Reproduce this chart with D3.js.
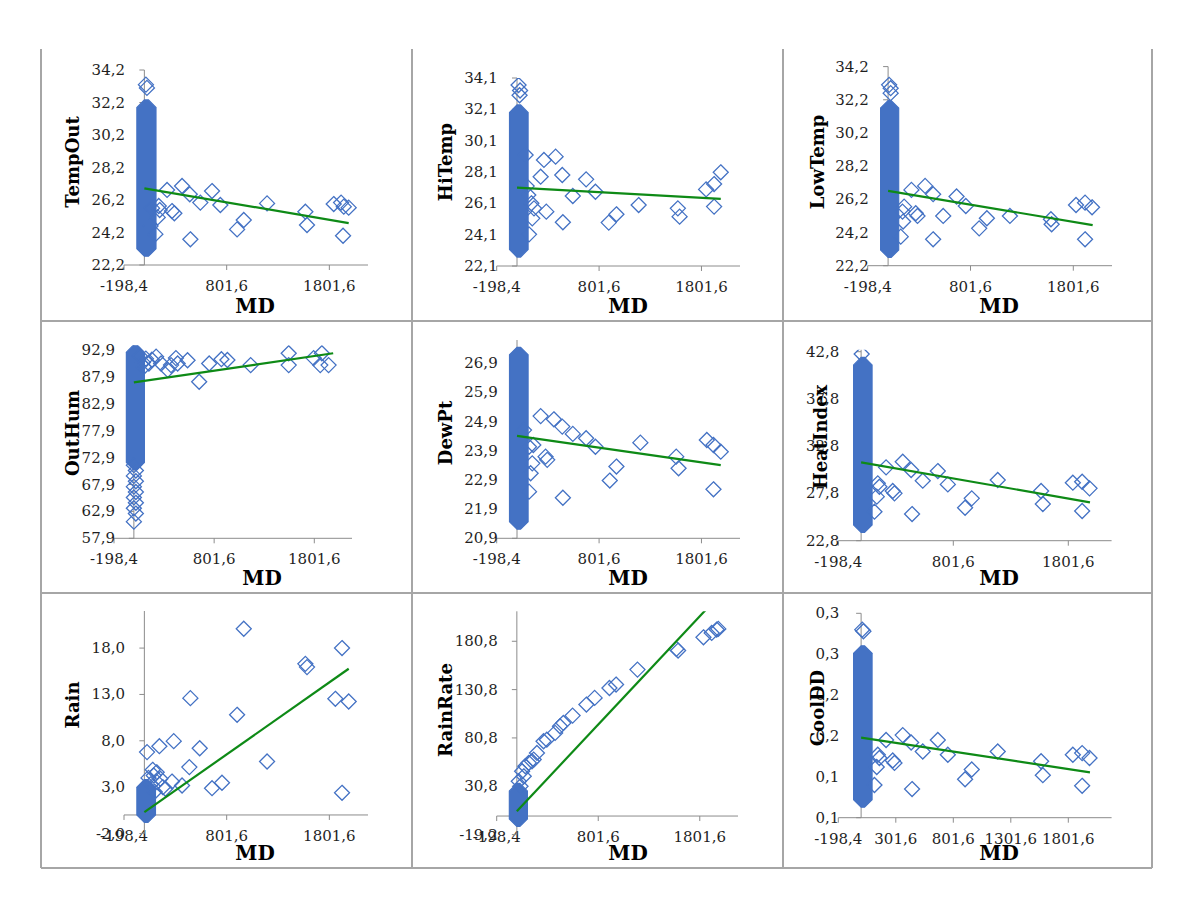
<!DOCTYPE html>
<html>
<head>
<meta charset="utf-8">
<script src="https://cdn.jsdelivr.net/npm/d3@7"></script>
<style>
  body { margin: 0; background: #fff; }
  svg text { font-family: "DejaVu Serif", serif; }
</style>
</head>
<body>
<svg id="chart" width="1191" height="908"></svg>
<script>
/* MD scatter grid: nine weather variables plotted against MD */

// shared x axis (MD)
const mdDomain = [-198.4, 2178];
const mdTicks = [-198.4, 801.6, 1801.6];
const mdTicksFine = [-198.4, 301.6, 801.6, 1301.6, 1801.6];

// dense column of readings at MD ~ 0: [mdMin, mdMax, valueMin, valueMax]
// TempOut
const tempOutTicks = [22.2, 24.2, 26.2, 28.2, 30.2, 32.2, 34.2];
const tempOutColumn = [0, 40, 23.2, 31.9];
const tempOutPoints = [[60, 24.6], [75, 25.7], [107, 24.1], [130, 25.13], [140, 25.83], [149, 25.58], [221, 26.82],
  [269, 25.52], [292, 25.38], [367, 27.06], [442, 26.55], [448, 23.78], [545, 26.04], [659, 26.75], [740, 25.89],
  [903, 24.39], [968, 24.97], [1195, 25.99], [1568, 25.48], [1584, 24.66], [1844, 25.95], [1916, 26.04],
  [1935, 24.0], [1942, 25.79], [1990, 25.73], [15, 33.3], [25, 33.1]];
const tempOutTrend = [[0, 26.92], [1990, 24.78]];

// HiTemp
const hiTempTicks = [22.1, 24.1, 26.1, 28.1, 30.1, 32.1, 34.1];
const hiTempColumn = [0, 35, 23.15, 31.9];
const hiTempPoints = [[84, 29.19], [94, 27.2], [110, 26.63], [117, 24.12], [140, 26.1], [149, 25.14], [166, 25.78],
  [231, 27.8], [263, 28.87], [286, 25.57], [377, 29.08], [442, 27.91], [448, 24.89], [545, 26.57], [675, 27.63],
  [766, 26.84], [896, 24.87], [971, 25.4], [1188, 25.99], [1571, 25.78], [1588, 25.25], [1847, 26.99],
  [1925, 27.33], [1925, 25.89], [1990, 28.08], [15, 33.65], [30, 33.3], [25, 33.0]];
const hiTempTrend = [[0, 27.1], [1990, 26.38]];

// LowTemp
const lowTempTicks = [22.2, 24.2, 26.2, 28.2, 30.2, 32.2, 34.2];
const lowTempColumn = [0, 30, 23.15, 31.7];
const lowTempPoints = [[123, 23.95], [140, 25.46], [146, 24.86], [156, 25.76], [227, 26.77], [269, 25.36],
  [286, 25.2], [360, 27.01], [438, 26.51], [438, 23.79], [536, 25.2], [666, 26.37], [756, 25.8], [886, 24.45],
  [961, 25.06], [1185, 25.2], [1584, 25.0], [1591, 24.7], [1828, 25.86], [1916, 26.0], [1916, 23.79],
  [1984, 25.72], [10, 33.1], [25, 32.9], [25, 32.6]];
const lowTempTrend = [[0, 26.71], [1990, 24.65]];

// OutHum
const outHumTicks = [57.9, 62.9, 67.9, 72.9, 77.9, 82.9, 87.9, 92.9];
const outHumMax = 93.8;
const outHumColumn = [0, 30, 72, 92.5];
const outHumPoints = [[0, 61.0], [20, 62.5], [0, 63.5], [20, 64.5], [0, 65.5], [20, 66.5], [0, 67.5], [20, 68.5],
  [0, 69.5], [20, 70.5], [0, 71.5],
  [60, 91.8], [90, 90.6], [120, 91.3], [150, 90.4], [180, 91.1], [100, 89.8], [222, 91.67], [272, 90.4],
  [338, 89.2], [371, 90.1], [420, 91.4], [437, 90.4], [536, 91.0], [652, 87.0], [752, 90.4], [874, 91.2],
  [934, 91.05], [1166, 90.1], [1546, 92.3], [1546, 90.1], [1795, 91.4], [1877, 92.3], [1861, 90.1], [1944, 90.1]];
const outHumTrend = [[0, 86.9], [1990, 92.3]];

// DewPt
const dewPtTicks = [20.9, 21.9, 22.9, 23.9, 24.9, 25.9, 26.9];
const dewPtMax = 27.7;
const dewPtColumn = [0, 35, 21.47, 27.19];
const dewPtPoints = [[68, 24.61], [117, 22.5], [117, 24.04], [133, 23.13], [149, 23.47], [159, 24.1], [231, 25.09],
  [279, 23.7], [295, 23.59], [360, 24.98], [442, 24.73], [448, 22.29], [545, 24.48], [675, 24.33], [766, 24.04],
  [906, 22.88], [971, 23.36], [1205, 24.18], [1555, 23.7], [1578, 23.3], [1854, 24.27], [1919, 24.1],
  [1919, 22.58], [1990, 23.87]];
const dewPtTrend = [[0, 24.41], [1990, 23.41]];

// HeatIndex
const heatIndexTicks = [22.8, 27.8, 32.8, 37.8, 42.8];
const heatIndexMax = 43.0;
const heatIndexColumn = [0, 30, 24.46, 41.4];
const heatIndexPoints = [[116, 25.87], [136, 27.46], [145, 28.87], [159, 28.51], [217, 30.56], [275, 28.06],
  [290, 27.81], [362, 31.16], [435, 30.28], [443, 25.62], [536, 29.15], [667, 30.17], [754, 28.76],
  [904, 26.29], [962, 27.28], [1188, 29.22], [1565, 28.06], [1580, 26.68], [1841, 28.94], [1922, 29.04],
  [1922, 25.94], [1986, 28.34], [5, 42.55]];
const heatIndexTrend = [[0, 31.09], [1990, 26.86]];

// Rain
const rainTicks = [-2.0, 3.0, 8.0, 13.0, 18.0];
const rainMax = 22.0;
const rainColumn = [0, 35, 0, 3.0];
const rainPoints = [[26, 6.78], [40, 4.0], [60, 3.3], [81, 4.87], [91, 4.26], [100, 2.5], [120, 4.6], [123, 3.54],
  [146, 7.42], [156, 3.9], [180, 3.0], [205, 2.82], [269, 3.6], [286, 7.96], [367, 3.18], [438, 5.16],
  [448, 12.6], [539, 7.2], [659, 2.89], [756, 3.47], [903, 10.8], [968, 20.09], [1195, 5.77], [1568, 16.3],
  [1584, 15.95], [1860, 12.53], [1925, 18.0], [1925, 2.39], [1990, 12.24]];
const rainTrend = [[0, 0.3], [1990, 15.77]];

// RainRate
const rainRateTicks = [-19.2, 30.8, 80.8, 130.8, 180.8];
const rainRateMax = 211.8;
const rainRateColumn = [0, 30, -3, 26];
const rainRatePoints = [[19, 36], [36, 30.8], [52, 46.3], [68, 41.1], [84, 51.5], [117, 55], [149, 56.7],
  [166, 58.4], [198, 65.3], [263, 77.4], [295, 79], [377, 86], [425, 92.9], [458, 96.3], [549, 103.9],
  [685, 115.3], [766, 122.2], [912, 132.5], [977, 136], [1188, 151.5], [1571, 172.9], [1588, 171.2],
  [1838, 184.9], [1919, 189.4], [1968, 192.9], [1984, 193.6]];
const rainRateTrend = [[0, 4.9], [1990, 227.8]];

// CoolDD
const coolDDTicks = [0.06, 0.11, 0.16, 0.21, 0.26, 0.31];
const coolDDColumn = [0, 30, 0.082, 0.261];
const coolDDPoints = [[116, 0.100], [136, 0.122], [145, 0.137], [159, 0.133], [217, 0.155], [275, 0.130],
  [290, 0.127], [362, 0.161], [435, 0.152], [443, 0.095], [536, 0.141], [667, 0.155], [754, 0.137],
  [904, 0.107], [962, 0.119], [1188, 0.141], [1565, 0.129], [1580, 0.112], [1841, 0.137], [1922, 0.139],
  [1922, 0.099], [1986, 0.133], [10, 0.290], [20, 0.288]];
const coolDDTrend = [[0, 0.158], [1990, 0.1155]];

const panels = [
  { name: "TempOut", ticks: tempOutTicks, yMax: 34.2, xTicks: mdTicks, column: tempOutColumn, points: tempOutPoints, trend: tempOutTrend },
  { name: "HiTemp", ticks: hiTempTicks, yMax: 34.1, xTicks: mdTicks, column: hiTempColumn, points: hiTempPoints, trend: hiTempTrend },
  { name: "LowTemp", ticks: lowTempTicks, yMax: 34.2, xTicks: mdTicks, column: lowTempColumn, points: lowTempPoints, trend: lowTempTrend },
  { name: "OutHum", ticks: outHumTicks, yMax: outHumMax, xTicks: mdTicks, column: outHumColumn, points: outHumPoints, trend: outHumTrend },
  { name: "DewPt", ticks: dewPtTicks, yMax: dewPtMax, xTicks: mdTicks, column: dewPtColumn, points: dewPtPoints, trend: dewPtTrend },
  { name: "HeatIndex", ticks: heatIndexTicks, yMax: heatIndexMax, xTicks: mdTicks, column: heatIndexColumn, points: heatIndexPoints, trend: heatIndexTrend },
  { name: "Rain", ticks: rainTicks, yMax: rainMax, xTicks: mdTicks, column: rainColumn, points: rainPoints, trend: rainTrend },
  { name: "RainRate", ticks: rainRateTicks, yMax: rainRateMax, xTicks: mdTicks, column: rainRateColumn, points: rainRatePoints, trend: rainRateTrend },
  { name: "CoolDD", ticks: coolDDTicks, yMax: 0.31, xTicks: mdTicksFine, column: coolDDColumn, points: coolDDPoints, trend: coolDDTrend }
];

// plot areas inside the 3x3 grid (pixels)
const frames = [
  { x0: 124, x1: 368, yt: 70, yb: 265, ty: [72, 162], tx: [255, 306] },
  { x0: 496.7, x1: 740, yt: 78, yb: 266, ty: [445, 162], tx: [628, 306] },
  { x0: 867.7, x1: 1112, yt: 66.6, yb: 265.7, ty: [817, 162], tx: [999, 306] },
  { x0: 114, x1: 352, yt: 345.2, yb: 538.3, ty: [72, 433], tx: [262, 578] },
  { x0: 496.7, x1: 740, yt: 340, yb: 538.3, ty: [445, 433], tx: [628, 578] },
  { x0: 838.3, x1: 1111.6, yt: 349.8, yb: 540.7, ty: [820, 437], tx: [999, 578] },
  { x0: 124, x1: 368, yt: 611, yb: 833.5, ty: [72, 705], tx: [255, 853] },
  { x0: 496.7, x1: 738, yt: 611.3, yb: 834.6, ty: [445, 710], tx: [628, 853] },
  { x0: 838.3, x1: 1111.6, yt: 613.3, yb: 817.7, ty: [817, 708], tx: [999, 853] }
];

const blue = "#4472C4";
const green = "#0E8A16";
const axisGray = "#8C8C8C";
const half = 7.5; // diamond half-diagonal

const fmt = v => v.toFixed(1).replace(".", ",");
const diamond = (cx, cy) => `M${cx},${cy - half}L${cx + half},${cy}L${cx},${cy + half}L${cx - half},${cy}Z`;

const svg = d3.select("#chart");

// cell borders
const gridX = [41, 412, 783, 1152];
const gridY = [49, 321, 593, 868];
gridX.forEach(gx => {
  svg.append("line").attr("x1", gx).attr("x2", gx).attr("y1", gridY[0]).attr("y2", gridY[3])
    .attr("stroke", "#A6A6A6").attr("stroke-width", 2);
});
gridY.slice(1).forEach(gy => {
  svg.append("line").attr("x1", gridX[0]).attr("x2", gridX[3]).attr("y1", gy).attr("y2", gy)
    .attr("stroke", "#A6A6A6").attr("stroke-width", 2);
});

panels.forEach((p, i) => {
  const f = frames[i];
  const x = d3.scaleLinear().domain(mdDomain).range([f.x0, f.x1]);
  const y = d3.scaleLinear().domain([p.ticks[0], p.yMax]).range([f.yb, f.yt]);
  const g = svg.append("g");

  const yCross = p.ticks[0] < 0 ? 0 : p.ticks[0];
  const axisY = y(yCross);
  const axisX = x(0);

  g.append("clipPath").attr("id", "clip" + i)
    .append("rect").attr("x", f.x0).attr("y", f.yt).attr("width", f.x1 - f.x0).attr("height", f.yb - f.yt);

  // horizontal axis
  g.append("line").attr("x1", f.x0).attr("x2", f.x1).attr("y1", axisY).attr("y2", axisY)
    .attr("stroke", axisGray).attr("stroke-width", 1);
  g.selectAll(".xt").data(p.xTicks).enter().append("line")
    .attr("x1", d => x(d)).attr("x2", d => x(d)).attr("y1", axisY).attr("y2", axisY + 5)
    .attr("stroke", axisGray);
  g.selectAll(".xl").data(p.xTicks).enter().append("text")
    .attr("x", d => x(d)).attr("y", axisY + 21)
    .attr("text-anchor", "middle").attr("dominant-baseline", "central")
    .attr("font-size", 15).attr("fill", "#1f1f1f")
    .text(fmt);

  // vertical axis, crossing at MD = 0
  g.append("line").attr("x1", axisX).attr("x2", axisX).attr("y1", f.yb).attr("y2", f.yt)
    .attr("stroke", axisGray).attr("stroke-width", 1);
  g.selectAll(".yt").data(p.ticks).enter().append("line")
    .attr("x1", axisX - 5).attr("x2", axisX).attr("y1", d => y(d)).attr("y2", d => y(d))
    .attr("stroke", axisGray);
  g.selectAll(".yl").data(p.ticks).enter().append("text")
    .attr("x", f.x0 + 1).attr("y", d => y(d))
    .attr("text-anchor", "end").attr("dominant-baseline", "central")
    .attr("font-size", 15).attr("fill", "#1f1f1f")
    .text(fmt);

  const marks = g.append("g").attr("clip-path", `url(#clip${i})`);

  // dense column of readings near MD = 0
  const [m0, m1, v0, v1] = p.column;
  const xa = x(m0), xb = x(m1), yTop = y(v1), yBot = y(v0);
  marks.append("path")
    .attr("d", `M${xa},${yTop - half}L${xb},${yTop - half}L${xb + half},${yTop}L${xb + half},${yBot}` +
      `L${xb},${yBot + half}L${xa},${yBot + half}L${xa - half},${yBot}L${xa - half},${yTop}Z`)
    .attr("fill", blue).attr("stroke", blue).attr("stroke-width", 1.2);

  // individual readings
  marks.selectAll(".pt").data(p.points).enter().append("path")
    .attr("d", d => diamond(x(d[0]), y(d[1])))
    .attr("fill", "none").attr("stroke", blue).attr("stroke-width", 1.3);

  // linear trend line
  marks.append("path")
    .attr("d", d3.line().x(d => x(d[0])).y(d => y(d[1]))(p.trend))
    .attr("fill", "none").attr("stroke", green).attr("stroke-width", 2.2);

  // titles
  g.append("text")
    .attr("transform", `translate(${f.ty[0]},${f.ty[1]}) rotate(-90)`)
    .attr("text-anchor", "middle").attr("dominant-baseline", "central")
    .attr("font-size", 18).attr("font-weight", "bold").attr("fill", "#000")
    .text(p.name);
  g.append("text")
    .attr("x", f.tx[0]).attr("y", f.tx[1])
    .attr("text-anchor", "middle").attr("dominant-baseline", "central")
    .attr("font-size", 20).attr("font-weight", "bold").attr("fill", "#000")
    .text("MD");
});
</script>
</body>
</html>
